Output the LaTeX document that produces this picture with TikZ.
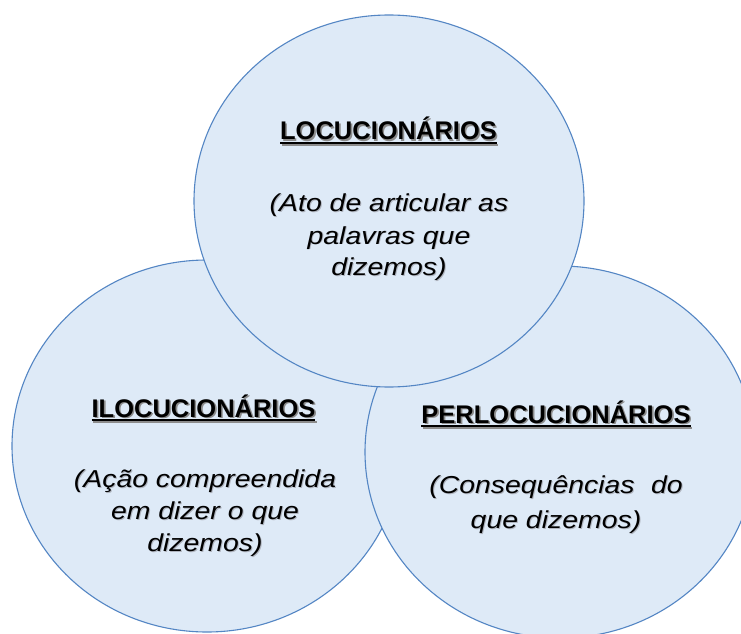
\documentclass[tikz,border=0pt]{standalone}
\usepackage{fontspec}
\setmainfont{Liberation Sans}
\usetikzlibrary{shapes.geometric}
\definecolor{fillblue}{RGB}{222,234,247}
\definecolor{lineblue}{RGB}{84,134,196}
\definecolor{titleshadow}{RGB}{140,140,140}
\definecolor{bodyshadow}{RGB}{175,180,190}
\newcommand{\myul}[1]{\vtop{\hbox{#1}\kern1.8pt\hrule height 2pt}}
\newcommand{\withshadow}[3]{\leavevmode\rlap{\kern#2\raisebox{-#2}{\color{#1}#3}}#3}
\newcommand{\bodylines}[2]{\scalebox{1.16}[1]{\fontsize{24.5}{#1}\selectfont\itshape\begin{tabular}[t]{@{}c@{}}#2\end{tabular}}}
\tikzset{
  bubble/.style={ellipse, draw=lineblue, fill=fillblue, line width=1.1pt,
    minimum width=390pt, minimum height=372pt, inner sep=0pt},
  titletxt/.style={anchor=base, inner sep=0pt, font=\fontsize{25.5}{30}\selectfont\bfseries},
  bodytxt/.style={anchor=base, inner sep=0pt}
}
\begin{document}
\begin{tikzpicture}[x=1pt,y=1pt]
\useasboundingbox (0,0) rectangle (741,633);
\clip (0,0) rectangle (741,633);
\fill[white] (0,0) rectangle (741,633);
% circles: left, right, top (top drawn last)
\node[bubble] (ilo) at (207,187) {};
\node[bubble] (perlo) at (560,181) {};
\node[bubble] (locu) at (389,432) {};
% top circle text
\node[titletxt] (locuT) at (388.5,493) {\withshadow{titleshadow}{1.6pt}{\myul{LOCUCIONÁRIOS}}};
\node[bodytxt] (locuB) at (389,421) {\withshadow{bodyshadow}{1pt}{\bodylines{32}{(Ato de articular as\\palavras que\\dizemos)}}};
% left circle text
\node[titletxt] (iloT) at (203.5,216) {\withshadow{titleshadow}{1.6pt}{\myul{ILOCUCIONÁRIOS}}};
\node[bodytxt] (iloB) at (205,146) {\withshadow{bodyshadow}{1pt}{\bodylines{32}{(Ação compreendida\\em dizer o que\\dizemos)}}};
% right circle text
\node[titletxt] (perloT) at (556,210) {\withshadow{titleshadow}{1.6pt}{\myul{PERLOCUCIONÁRIOS}}};
\node[bodytxt] (perloB) at (556,140) {\withshadow{bodyshadow}{1pt}{\bodylines{35}{(Consequências\hspace{0.3em} do\\que dizemos)}}};
\end{tikzpicture}
\end{document}
